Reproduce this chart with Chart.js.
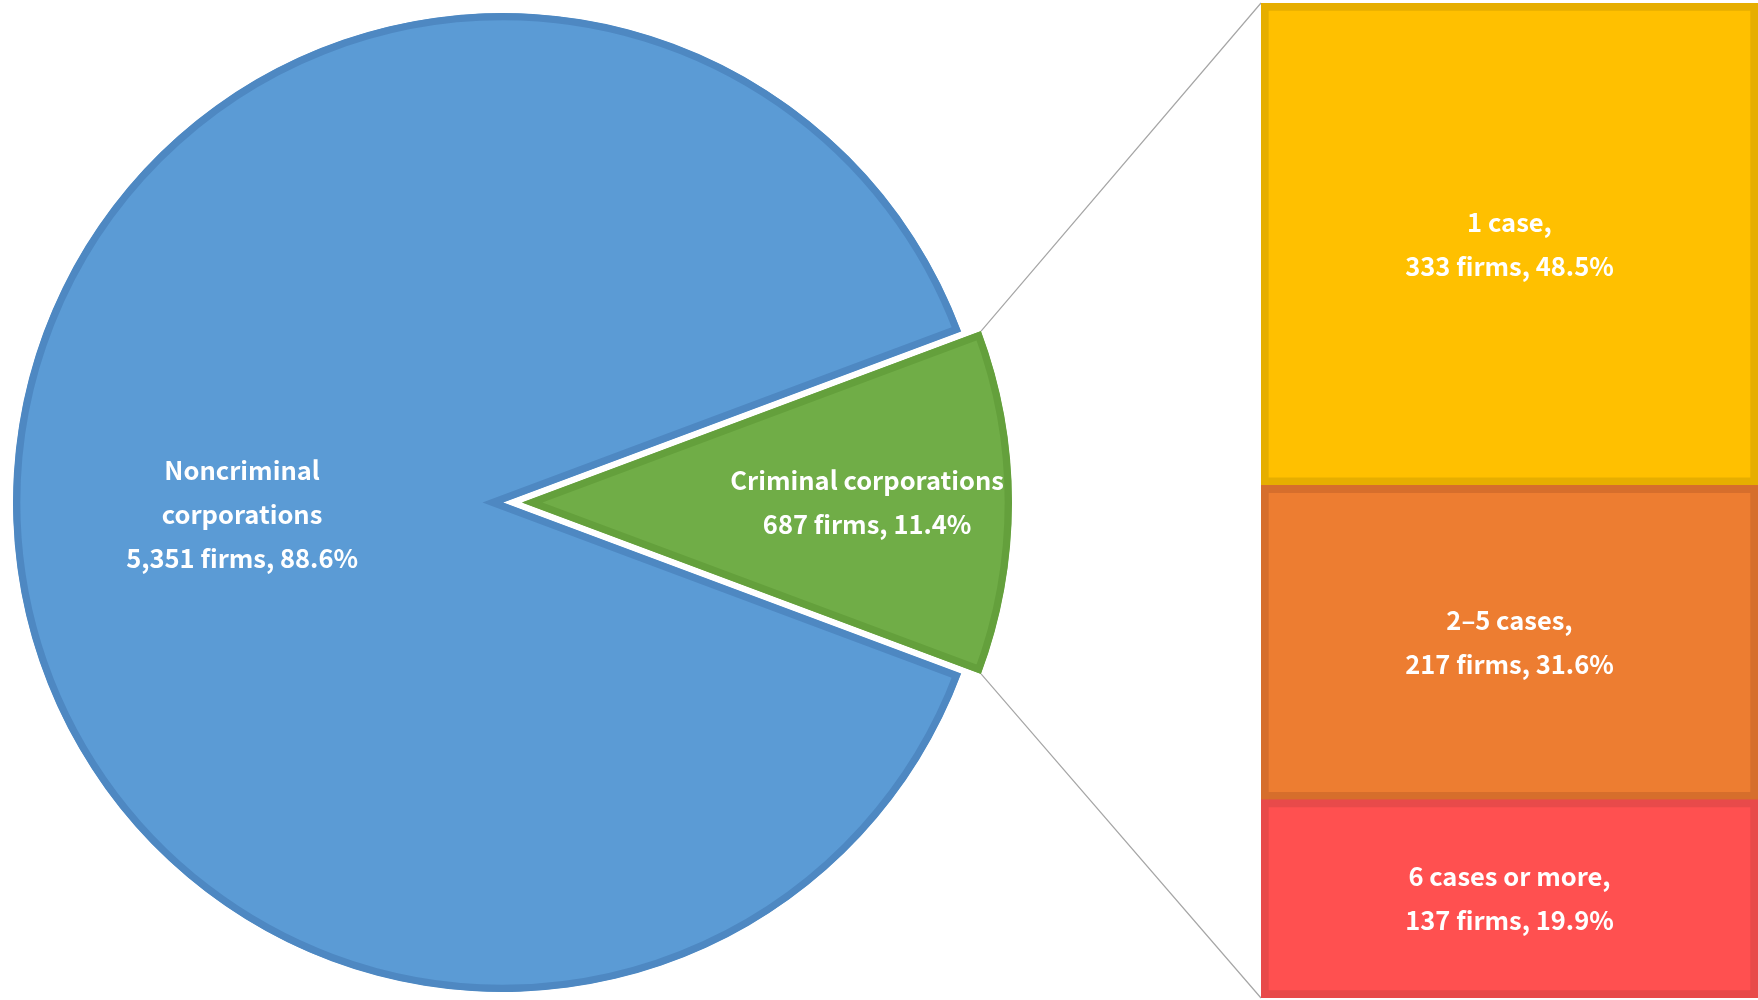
<!DOCTYPE html>
<html>
<head>
<meta charset="utf-8">
<script src="https://cdn.jsdelivr.net/npm/chart.js@4.4.1/dist/chart.umd.min.js"></script>
<style>
  html, body { margin: 0; padding: 0; background: #ffffff; overflow: hidden; width: 1758px; height: 1000px; }
  canvas { position: absolute; left: 0; top: 0; }
</style>
</head>
<body>
<canvas id="pie" width="1758" height="1000"></canvas>
<canvas id="bar" width="1758" height="1000"></canvas>
<script>
// Corporations split by criminal record
const pieCategories = [['Noncriminal', 'corporations'], ['Criminal corporations']];
const pieFirms = [5351, 687];

// Criminal corporations split by number of cases
const barCategories = ['1 case,', '2–5 cases,', '6 cases or more,'];
const barFirms = [333, 217, 137];

// Styling
const FONT_FAMILY = '"Noto Sans CJK JP", "Noto Sans", sans-serif';
const FONT_SIZE = 25.5;
const LINE_HEIGHT = 44;
const pieFill = ['#5B9BD5', '#70AD47'];
const pieEdge = ['#4E88C2', '#64A03C'];
const pieExplode = [0, 20];                       // px the slice is pulled out
const pieLabelPlace = [{ k: 0.532, dy: 12 }, { k: 0.704, dy: 0 }];
const barFill = ['#FFC000', '#ED7D31', '#FF5050'];
const barEdge = ['#E6AE00', '#D66E2C', '#E84A4A'];

const pieTotal = pieFirms.reduce((a, b) => a + b, 0);
const barTotal = barFirms.reduce((a, b) => a + b, 0);
const pct = (v, t) => (v / t * 100).toFixed(1) + '%';
const fmt = v => v.toLocaleString('en-US');

// Small slice centred on the right-hand side
const smallHalfDeg = pieFirms[1] / pieTotal * 180;

function drawLines(ctx, lines, x, y) {
  ctx.save();
  ctx.fillStyle = '#ffffff';
  ctx.font = 'bold ' + FONT_SIZE + 'px ' + FONT_FAMILY;
  ctx.textAlign = 'center';
  ctx.textBaseline = 'middle';
  const top = y - (lines.length - 1) * LINE_HEIGHT / 2;
  lines.forEach((t, i) => ctx.fillText(t, x, top + i * LINE_HEIGHT));
  ctx.restore();
}

// Pull exploded slices away from the centre
const explodePlugin = {
  id: 'explode',
  afterUpdate(chart) {
    chart.getDatasetMeta(0).data.forEach((arc, i) => {
      const d = pieExplode[i] || 0;
      if (!d) return;
      const mid = (arc.startAngle + arc.endAngle) / 2;
      arc.x += Math.cos(mid) * d;
      arc.y += Math.sin(mid) * d;
    });
  }
};

const pieLabelPlugin = {
  id: 'pieLabels',
  afterDatasetsDraw(chart) {
    const ctx = chart.ctx;
    chart.getDatasetMeta(0).data.forEach((arc, i) => {
      const mid = (arc.startAngle + arc.endAngle) / 2;
      const p = pieLabelPlace[i];
      const x = arc.x + Math.cos(mid) * arc.outerRadius * p.k;
      const y = arc.y + Math.sin(mid) * arc.outerRadius * p.k + p.dy;
      const lines = pieCategories[i].concat([fmt(pieFirms[i]) + ' firms, ' + pct(pieFirms[i], pieTotal)]);
      drawLines(ctx, lines, x, y);
    });
  }
};

const pieChart = new Chart(document.getElementById('pie'), {
  type: 'pie',
  data: {
    labels: pieCategories.map(c => c.join(' ')),
    datasets: [{
      data: pieFirms,
      backgroundColor: pieFill,
      borderColor: pieEdge,
      borderWidth: 7,
      borderAlign: 'inner',
      borderJoinStyle: 'miter'
    }]
  },
  options: {
    responsive: false,
    animation: false,
    devicePixelRatio: 1,
    rotation: 90 + smallHalfDeg,
    radius: 489.5,
    layout: { padding: { top: 5, right: 753 } },
    plugins: { legend: { display: false }, tooltip: { enabled: false } },
    events: []
  },
  plugins: [explodePlugin, pieLabelPlugin]
});

// Stacked column: first category on top, so stack in reverse
const order = barFirms.map((_, i) => i).reverse();

const connectorPlugin = {
  id: 'connectors',
  beforeDatasetsDraw(chart) {
    const arc = pieChart.getDatasetMeta(0).data[1];
    const r = arc.outerRadius;
    const topBar = chart.getDatasetMeta(order.indexOf(0)).data[0];
    const botBar = chart.getDatasetMeta(order.indexOf(barFirms.length - 1)).data[0];
    const left = topBar.x - topBar.width / 2;
    const ctx = chart.ctx;
    ctx.save();
    ctx.strokeStyle = '#A6A6A6';
    ctx.lineWidth = 1.2;
    ctx.beginPath();
    ctx.moveTo(arc.x + Math.cos(arc.startAngle) * r, arc.y + Math.sin(arc.startAngle) * r);
    ctx.lineTo(left, topBar.y);
    ctx.moveTo(arc.x + Math.cos(arc.endAngle) * r, arc.y + Math.sin(arc.endAngle) * r);
    ctx.lineTo(left, botBar.base);
    ctx.stroke();
    ctx.restore();
  },
  afterDatasetsDraw(chart) {
    const ctx = chart.ctx;
    order.forEach((catIdx, dsIdx) => {
      const bar = chart.getDatasetMeta(dsIdx).data[0];
      const lines = [barCategories[catIdx], fmt(barFirms[catIdx]) + ' firms, ' + pct(barFirms[catIdx], barTotal)];
      drawLines(ctx, lines, bar.x, (bar.y + bar.base) / 2);
    });
  }
};

new Chart(document.getElementById('bar'), {
  type: 'bar',
  data: {
    labels: ['Criminal corporations'],
    datasets: order.map(i => ({
      label: barCategories[i],
      data: [barFirms[i]],
      backgroundColor: barFill[i],
      borderColor: barEdge[i],
      borderWidth: 8,
      borderSkipped: false,
      barPercentage: 1,
      categoryPercentage: 1
    }))
  },
  options: {
    responsive: false,
    animation: false,
    devicePixelRatio: 1,
    layout: { padding: { left: 1261, top: 3, bottom: 2, right: 0 } },
    scales: {
      x: { stacked: true, display: false },
      y: { stacked: true, display: false, min: 0, max: barTotal }
    },
    plugins: { legend: { display: false }, tooltip: { enabled: false } },
    events: []
  },
  plugins: [connectorPlugin]
});
</script>
</body>
</html>
